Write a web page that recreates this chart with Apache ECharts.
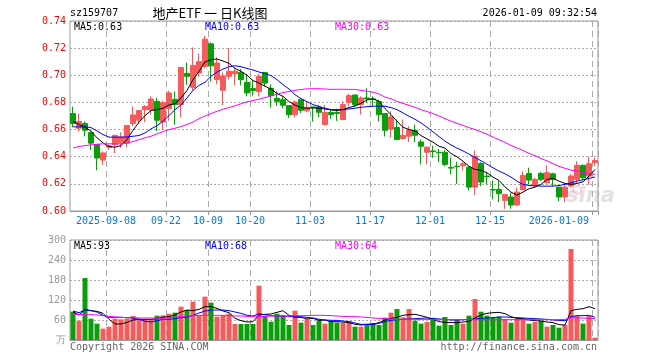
<!DOCTYPE html>
<html><head><meta charset="utf-8">
<script src="https://cdn.jsdelivr.net/npm/echarts@6/dist/echarts.min.js"></script>
<style>html,body{margin:0;padding:0;background:#fff}#c{width:660px;height:360px}</style>
</head><body><div id="c"></div>
<script>
const dates = [
'2025-08-29',
'2025-09-01','2025-09-02','2025-09-03','2025-09-04','2025-09-05',
'2025-09-08','2025-09-09','2025-09-10','2025-09-11','2025-09-12',
'2025-09-15','2025-09-16','2025-09-17','2025-09-18','2025-09-19',
'2025-09-22','2025-09-23','2025-09-24','2025-09-25','2025-09-26',
'2025-09-29','2025-09-30',
'2025-10-09','2025-10-10',
'2025-10-13','2025-10-14','2025-10-15','2025-10-16','2025-10-17',
'2025-10-20','2025-10-21','2025-10-22','2025-10-23','2025-10-24',
'2025-10-27','2025-10-28','2025-10-29','2025-10-30','2025-10-31',
'2025-11-03','2025-11-04','2025-11-05','2025-11-06','2025-11-07',
'2025-11-10','2025-11-11','2025-11-12','2025-11-13','2025-11-14',
'2025-11-17','2025-11-18','2025-11-19','2025-11-20','2025-11-21',
'2025-11-24','2025-11-25','2025-11-26','2025-11-27','2025-11-28',
'2025-12-01','2025-12-02','2025-12-03','2025-12-04','2025-12-05',
'2025-12-08','2025-12-09','2025-12-10','2025-12-11','2025-12-12',
'2025-12-15','2025-12-16','2025-12-17','2025-12-18','2025-12-19',
'2025-12-22','2025-12-23','2025-12-24','2025-12-25','2025-12-26',
'2025-12-29','2025-12-30','2025-12-31',
'2026-01-05','2026-01-06','2026-01-07','2026-01-08','2026-01-09'];

const tickDates = ['2025-09-08','2025-09-22','2025-10-09','2025-10-20','2025-11-03','2025-11-17','2025-12-01','2025-12-15','2026-01-09'];
const tickText  = ['2025-09-08','09-22','10-09','10-20','11-03','11-17','12-01','12-15','2026-01-09'];

const openP = [0.6718,0.6610,0.6644,0.6578,0.6490,0.6375,0.6470,0.6490,0.6502,0.6500,
0.6644,0.6669,0.6747,0.6744,0.6808,0.6656,0.6755,0.6821,0.6784,0.7014,
0.6911,0.7016,0.7065,0.7232,0.6968,0.6889,0.6992,0.7011,0.7021,0.6948,
0.6902,0.6880,0.7021,0.6904,0.6830,0.6820,0.6777,0.6710,0.6820,0.6738,
0.6767,0.6767,0.6637,0.6727,0.6727,0.6674,0.6801,0.6855,0.6784,0.6833,
0.6826,0.6808,0.6718,0.6603,0.6615,0.6534,0.6551,0.6593,0.6509,0.6433,
0.6443,0.6433,0.6433,0.6321,0.6330,0.6333,0.6323,0.6176,0.6350,0.6257,
0.6159,0.6159,0.6078,0.6103,0.6044,0.6157,0.6277,0.6190,0.6277,0.6208,
0.6274,0.6176,0.6103,0.6184,0.6233,0.6336,0.6257,0.6355];
const closeP = [0.6644,0.6659,0.6595,0.6500,0.6390,0.6428,0.6480,0.6556,0.6546,0.6630,
0.6708,0.6740,0.6771,0.6825,0.6669,0.6800,0.6870,0.6784,0.7058,0.6992,
0.7073,0.7100,0.7266,0.7070,0.7090,0.6995,0.7029,0.7029,0.6968,0.6870,
0.6887,0.6992,0.6943,0.6850,0.6808,0.6779,0.6710,0.6803,0.6742,0.6764,
0.6762,0.6727,0.6727,0.6710,0.6718,0.6784,0.6850,0.6784,0.6833,0.6826,
0.6820,0.6710,0.6595,0.6693,0.6526,0.6556,0.6593,0.6558,0.6477,0.6470,
0.6438,0.6429,0.6343,0.6316,0.6326,0.6348,0.6176,0.6404,0.6213,0.6252,
0.6154,0.6127,0.6122,0.6044,0.6140,0.6262,0.6228,0.6233,0.6233,0.6282,
0.6233,0.6103,0.6176,0.6257,0.6336,0.6245,0.6348,0.6372];
const highP = [0.6769,0.6718,0.6660,0.6585,0.6490,0.6440,0.6490,0.6563,0.6580,0.6630,
0.6770,0.6740,0.6780,0.6845,0.6833,0.6813,0.6887,0.6880,0.7058,0.7093,
0.7206,0.7160,0.7290,0.7242,0.7132,0.7020,0.7200,0.7053,0.7046,0.7009,
0.6968,0.7009,0.7021,0.6933,0.6885,0.6845,0.6777,0.6815,0.6820,0.6806,
0.6767,0.6781,0.6781,0.6752,0.6754,0.6808,0.6865,0.6855,0.6845,0.6904,
0.6845,0.6820,0.6718,0.6735,0.6674,0.6674,0.6625,0.6637,0.6527,0.6477,
0.6482,0.6458,0.6448,0.6392,0.6363,0.6360,0.6330,0.6446,0.6360,0.6289,
0.6225,0.6220,0.6122,0.6135,0.6172,0.6292,0.6319,0.6245,0.6287,0.6336,
0.6282,0.6176,0.6204,0.6274,0.6368,0.6343,0.6399,0.6392];
const lowP = [0.6617,0.6585,0.6550,0.6450,0.6300,0.6340,0.6450,0.6426,0.6465,0.6470,
0.6625,0.6642,0.6654,0.6710,0.6588,0.6600,0.6666,0.6637,0.6690,0.6930,
0.6887,0.6990,0.7050,0.6953,0.6934,0.6780,0.6970,0.6926,0.6926,0.6845,
0.6850,0.6845,0.6920,0.6762,0.6775,0.6757,0.6686,0.6690,0.6723,0.6728,
0.6659,0.6690,0.6630,0.6679,0.6664,0.6669,0.6772,0.6765,0.6710,0.6796,
0.6772,0.6660,0.6550,0.6542,0.6522,0.6526,0.6509,0.6507,0.6343,0.6345,
0.6392,0.6360,0.6330,0.6270,0.6200,0.6299,0.6152,0.6118,0.6184,0.6196,
0.6086,0.6066,0.6017,0.6017,0.6037,0.6152,0.6196,0.6170,0.6221,0.6203,
0.6184,0.6073,0.6066,0.6172,0.6203,0.6228,0.6194,0.6330];

const ma5 = [0.6661,0.6637,0.6617,0.6588,0.6539,0.6502,0.6475,0.6470,0.6482,0.6526,
0.6595,0.6654,0.6703,0.6740,0.6747,0.6757,0.6781,0.6791,0.6833,0.6889,
0.6968,0.7029,0.7098,0.7115,0.7120,0.7105,0.7088,0.7051,0.7029,0.7000,
0.6961,0.6943,0.6919,0.6899,0.6865,0.6845,0.6806,0.6781,0.6762,0.6757,
0.6759,0.6757,0.6752,0.6745,0.6740,0.6747,0.6762,0.6774,0.6794,0.6818,
0.6828,0.6808,0.6754,0.6710,0.6661,0.6617,0.6600,0.6590,0.6556,0.6531,
0.6507,0.6477,0.6463,0.6424,0.6399,0.6367,0.6330,0.6306,0.6301,0.6281,
0.6250,0.6225,0.6178,0.6139,0.6117,0.6139,0.6164,0.6176,0.6196,0.6233,
0.6240,0.6220,0.6203,0.6196,0.6203,0.6215,0.6257,0.6306];
const ma10 = [0.6620,0.6620,0.6620,0.6615,0.6590,0.6563,0.6544,0.6544,0.6544,0.6546,
0.6551,0.6556,0.6575,0.6605,0.6629,0.6661,0.6703,0.6747,0.6781,0.6833,
0.6889,0.6925,0.6948,0.6992,0.7024,0.7046,0.7063,0.7070,0.7063,0.7051,
0.7039,0.7024,0.7012,0.6997,0.6968,0.6931,0.6899,0.6857,0.6828,0.6806,
0.6784,0.6769,0.6757,0.6747,0.6747,0.6747,0.6752,0.6757,0.6764,0.6769,
0.6772,0.6772,0.6772,0.6762,0.6747,0.6723,0.6698,0.6676,0.6649,0.6617,
0.6583,0.6549,0.6514,0.6487,0.6463,0.6443,0.6419,0.6394,0.6370,0.6345,
0.6318,0.6294,0.6274,0.6250,0.6220,0.6196,0.6188,0.6186,0.6183,0.6183,
0.6183,0.6188,0.6196,0.6208,0.6220,0.6230,0.6240,0.6250];
const ma30 = [0.6465,0.6475,0.6482,0.6487,0.6492,0.6495,0.6495,0.6495,0.6495,0.6500,
0.6512,0.6526,0.6539,0.6551,0.6568,0.6585,0.6600,0.6610,0.6622,0.6637,
0.6655,0.6680,0.6700,0.6718,0.6735,0.6750,0.6762,0.6775,0.6790,0.6805,
0.6813,0.6824,0.6835,0.6847,0.6861,0.6873,0.6880,0.6889,0.6895,0.6900,
0.6901,0.6901,0.6899,0.6896,0.6897,0.6897,0.6896,0.6896,0.6889,0.6883,
0.6875,0.6862,0.6839,0.6827,0.6808,0.6793,0.6779,0.6763,0.6747,0.6733,
0.6718,0.6700,0.6680,0.6662,0.6646,0.6631,0.6614,0.6600,0.6583,0.6566,
0.6545,0.6525,0.6505,0.6483,0.6464,0.6446,0.6425,0.6407,0.6387,0.6369,
0.6349,0.6329,0.6315,0.6301,0.6294,0.6284,0.6276,0.6270];

const volume = [85,58,186,64,49,34,40,64,62,64,
72,64,62,62,73,74,79,82,100,90,
115,73,130,112,70,73,79,48,48,48,
48,163,72,55,79,73,45,88,52,62,
45,59,49,57,52,52,57,40,40,45,
50,45,67,82,93,68,93,58,49,54,
62,43,69,45,60,49,73,123,85,73,
68,70,62,52,65,65,49,54,58,40,
45,37,45,273,72,49,73,7];
const volMa5 = [85,75,92,88,86,80,62,48,48,53,
60,62,62,62,64,69,70,75,84,90,
88,92,100,100,95,87,82,65,58,54,
55,75,77,78,83,88,74,68,68,63,
65,59,60,55,55,54,52,47,45,47,
48,52,60,65,68,74,76,77,73,68,
62,55,53,52,52,54,56,66,75,80,
82,83,79,70,65,64,60,58,57,54,
52,46,45,88,92,94,100,94];
const volMa10 = [87,82,90,88,84,74,68,68,68,67,
66,62,56,54,58,62,62,64,67,69,
74,81,87,90,90,90,88,84,80,74,
72,79,76,73,72,72,71,70,70,68,
66,62,60,59,59,57,55,51,47,47,
47,50,55,59,61,62,63,64,65,66,
65,63,62,60,60,61,62,63,65,66,
67,69,69,68,67,66,65,64,63,62,
60,59,58,70,73,73,74,68];
const volMa30 = [77,77,76,76,75,73,71,69,68,67,
67,66,66,66,65,65,66,68,71,72,
73,74,74,74,74,74,73,72,72,71,
70,70,71,72,72,72,72,73,73,73,
74,74,74,73,72,71,70,70,69,68,
66,65,64,63,62,62,62,62,62,62,
61,61,61,61,61,61,61,61,61,61,
61,61,61,61,61,61,61,61,61,61,
61,61,62,67,66,66,65,64];

const priceLegend = {ma5: 'MA5:0.63', ma10: 'MA10:0.63', ma30: 'MA30:0.63'};
const volLegend = {ma5: 'MA5:93', ma10: 'MA10:68', ma30: 'MA30:64'};

const RED = '#f55b5b', GREEN = '#0a9e0a', GRIDC = '#aaaaaa', BORDER = '#999999';
const MONO = '"DejaVu Sans Mono", "Liberation Mono", monospace';
const tickSet = new Set(tickDates);
const tickFn = (i, v) => tickSet.has(v);

const candleData = dates.map((d, i) => [openP[i], closeP[i], lowP[i], highP[i]]);
const volData = volume.map((v, i) => ({value: v, itemStyle: {color: closeP[i] >= openP[i] ? RED : GREEN}}));

function txt(x, y, text, fill, align, font) {
  return {type: 'text', x: x, y: y, z: 100, silent: true,
    style: {text: text, fill: fill, font: font || ('10px ' + MONO),
      align: align || 'left', textAlign: align || 'left',
      verticalAlign: 'middle', textVerticalAlign: 'middle'}};
}

const chart = echarts.init(document.getElementById('c'), null, {renderer: 'canvas'});
chart.setOption({
  animation: false,
  backgroundColor: '#ffffff',
  grid: [
    {left: 70, top: 21, width: 528, height: 190, show: true, borderColor: BORDER, borderWidth: 1, backgroundColor: 'transparent'},
    {left: 70, top: 240, width: 528, height: 100, show: true, borderColor: BORDER, borderWidth: 1, backgroundColor: 'transparent'}
  ],
  xAxis: [
    {type: 'category', gridIndex: 0, data: dates, boundaryGap: true,
     axisLine: {show: true, lineStyle: {color: BORDER}},
     axisTick: {show: true, interval: tickFn, length: 4, lineStyle: {color: BORDER}},
     axisLabel: {interval: tickFn, formatter: v => tickText[tickDates.indexOf(v)],
       color: '#0a78d2', fontFamily: MONO, fontSize: 10, margin: 5, padding: [0, 6, 0, 0], alignMaxLabel: 'right'},
     splitLine: {show: true, interval: tickFn, lineStyle: {color: GRIDC, type: [6, 4], width: 1}}},
    {type: 'category', gridIndex: 1, data: dates, boundaryGap: true,
     axisLine: {show: true, lineStyle: {color: BORDER}},
     axisTick: {show: false}, axisLabel: {show: false},
     splitLine: {show: true, interval: tickFn, lineStyle: {color: GRIDC, type: [6, 4], width: 1}}}
  ],
  yAxis: [
    {type: 'value', gridIndex: 0, min: 0.60, max: 0.74, interval: 0.02,
     axisLine: {show: false}, axisTick: {show: false},
     axisLabel: {color: '#ff0000', fontFamily: MONO, fontSize: 10, margin: 4, formatter: v => v.toFixed(2)},
     splitLine: {show: true, lineStyle: {color: GRIDC, type: [2, 2], width: 1}}},
    {type: 'value', gridIndex: 1, min: 0, max: 300, interval: 60,
     axisLine: {show: false}, axisTick: {show: false},
     axisLabel: {color: '#999999', fontFamily: MONO, fontSize: 10, margin: 4, formatter: v => v === 0 ? '万' : String(v)},
     splitLine: {show: true, lineStyle: {color: GRIDC, type: [2, 2], width: 1}}}
  ],
  series: [
    {type: 'candlestick', xAxisIndex: 0, yAxisIndex: 0, data: candleData, barWidth: 5,
     itemStyle: {color: RED, color0: GREEN, borderColor: RED, borderColor0: GREEN, borderWidth: 1}},
    {type: 'line', xAxisIndex: 0, yAxisIndex: 0, data: ma5, symbol: 'none', lineStyle: {color: '#000000', width: 1}, z: 5},
    {type: 'line', xAxisIndex: 0, yAxisIndex: 0, data: ma10, symbol: 'none', lineStyle: {color: '#0000ff', width: 1}, z: 5},
    {type: 'line', xAxisIndex: 0, yAxisIndex: 0, data: ma30, symbol: 'none', lineStyle: {color: '#ff00ff', width: 1}, z: 5},
    {type: 'bar', xAxisIndex: 1, yAxisIndex: 1, data: volData, barWidth: 5},
    {type: 'line', xAxisIndex: 1, yAxisIndex: 1, data: volMa5, symbol: 'none', lineStyle: {color: '#000000', width: 1}, z: 5},
    {type: 'line', xAxisIndex: 1, yAxisIndex: 1, data: volMa10, symbol: 'none', lineStyle: {color: '#0000ff', width: 1}, z: 5},
    {type: 'line', xAxisIndex: 1, yAxisIndex: 1, data: volMa30, symbol: 'none', lineStyle: {color: '#ff00ff', width: 1}, z: 5}
  ],
  graphic: [
    {type: 'text', x: 566, y: 197, z: 0, silent: true,
     style: {text: 'sina', fill: 'rgba(180,180,180,0.4)', font: 'italic bold 21px "DejaVu Sans"', align: 'left', textAlign: 'left', verticalAlign: 'middle', textVerticalAlign: 'middle'}},
    {type: 'circle', z: 0, silent: true, shape: {cx: 577, cy: 190, r: 4},
     style: {fill: 'none', stroke: 'rgba(240,140,140,0.4)', lineWidth: 2}},
    txt(70, 13, 'sz159707', '#000'),
    txt(210, 13, '地产ETF 一 日K线图', '#000', 'center', '13px "Noto Sans CJK SC"'),
    txt(597, 13, '2026-01-09 09:32:54', '#000', 'right'),
    txt(74, 27, priceLegend.ma5, '#000'),
    txt(205, 27, priceLegend.ma10, '#0000ff'),
    txt(335, 27, priceLegend.ma30, '#ff00ff'),
    txt(74, 246, volLegend.ma5, '#000'),
    txt(205, 246, volLegend.ma10, '#0000ff'),
    txt(335, 246, volLegend.ma30, '#ff00ff'),
    txt(70, 347, 'Copyright 2026 SINA.COM', '#666'),
    txt(597, 347, 'http://finance.sina.com.cn', '#666', 'right')
  ]
});
</script>
</body></html>
